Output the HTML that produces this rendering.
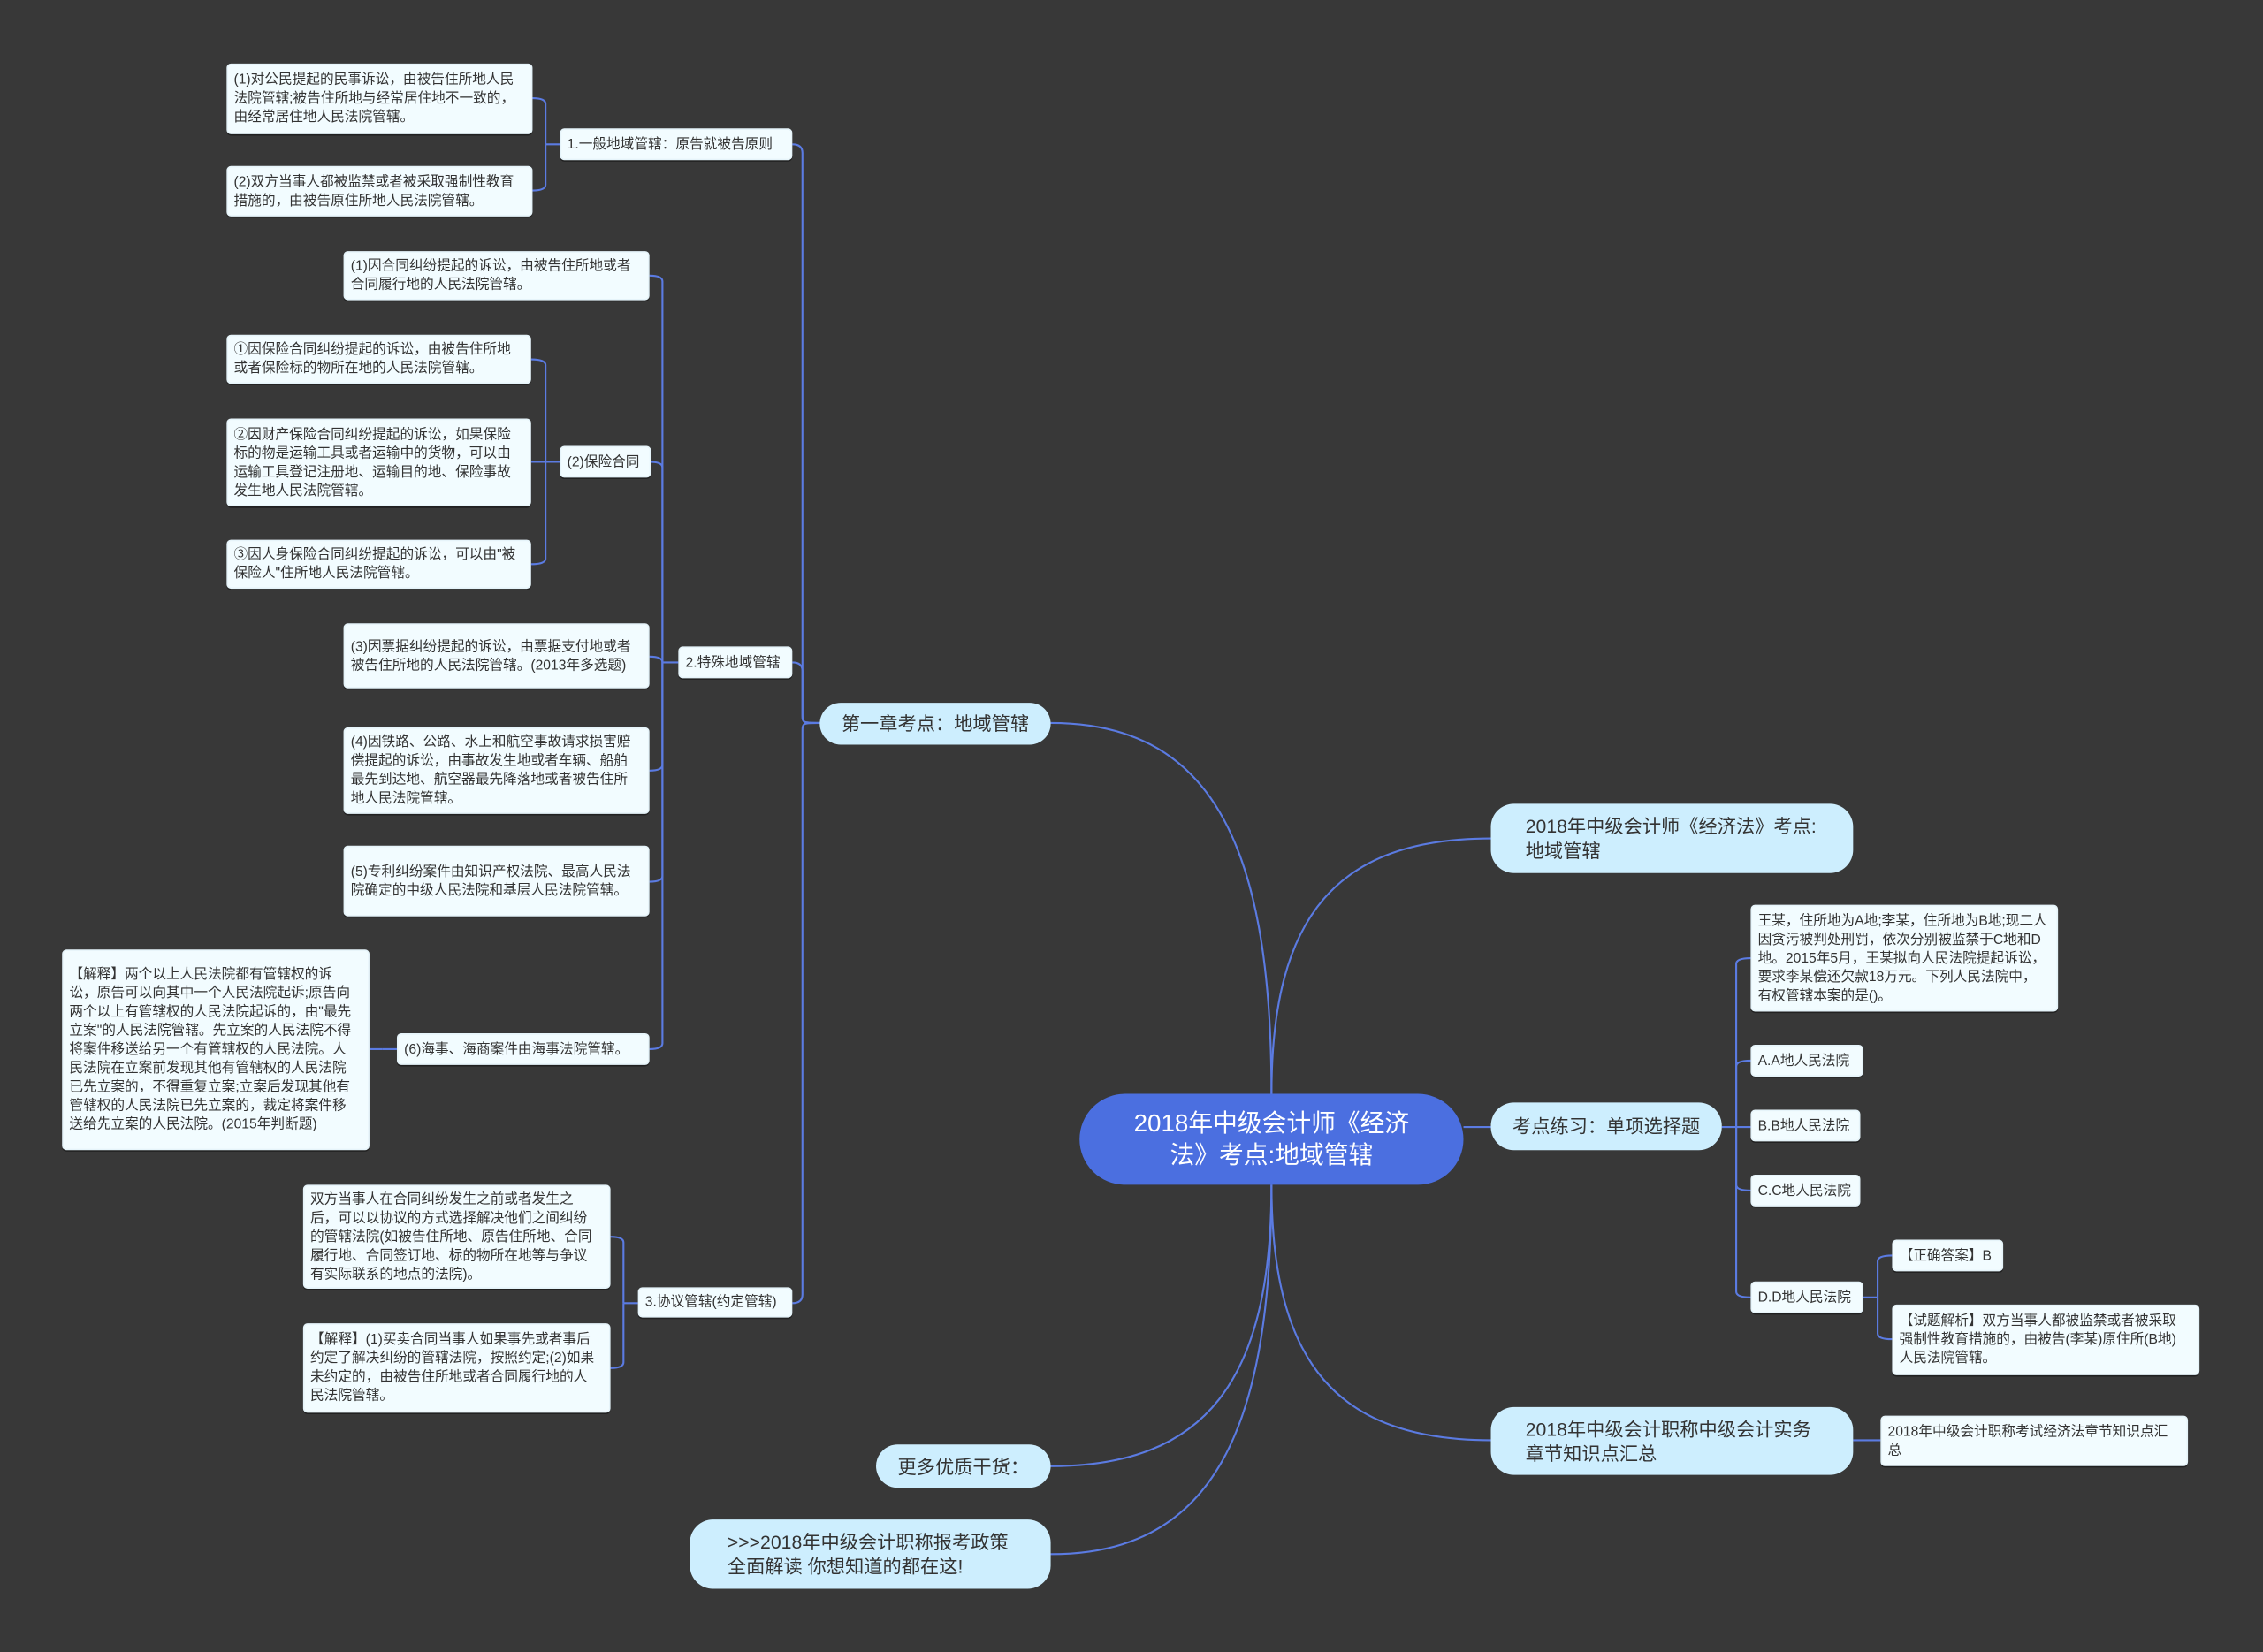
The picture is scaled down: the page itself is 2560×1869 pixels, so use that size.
<!DOCTYPE html>
<html><head><meta charset="utf-8">
<style>
html,body{margin:0;padding:0;background:#383838;}
body{width:2560px;height:1869px;overflow:hidden;position:relative;}
#s{position:absolute;left:0;top:0;width:1568px;height:1145px;transform:scale(1.63265);transform-origin:0 0;}
.n{position:absolute;box-sizing:border-box;background:#f2fcff;border:1px solid #e6f4fa;border-radius:3px;color:#333;font-family:"Liberation Sans","Noto Sans CJK SC",sans-serif;font-size:9.6px;line-height:13px;padding:2px 6px 2px 4px;display:flex;align-items:center;word-break:break-all;box-shadow:0 1px 0 rgba(0,0,0,.4);}
.p{position:absolute;box-sizing:border-box;background:#cdeefe;border-radius:16px;color:#333;font-family:"Liberation Sans","Noto Sans CJK SC",sans-serif;font-size:13px;line-height:17px;padding:0 20px 0 24px;display:flex;align-items:center;}
.r{position:absolute;box-sizing:border-box;background:#4b6fe0;border-radius:32px;color:#fff;font-family:"Liberation Sans","Noto Sans CJK SC",sans-serif;font-size:17px;line-height:22px;display:flex;align-items:center;justify-content:center;text-align:center;padding:0 28px;}
svg{position:absolute;left:0;top:0;}
</style></head><body>
<div id="s">
<svg id="g" width="1568" height="1145" viewBox="0 0 1568 1145"></svg>

<div class="n" style="left:157px;top:44px;width:212px;height:49px">(1)对公民提起的民事诉讼，由被告住所地人民法院管辖;被告住所地与经常居住地不一致的，由经常居住地人民法院管辖。</div>
<div class="n" style="left:157px;top:115px;width:212px;height:35px">(2)双方当事人都被监禁或者被采取强制性教育措施的，由被告原住所地人民法院管辖。</div>
<div class="n" style="left:388px;top:89px;width:161px;height:22px;white-space:nowrap">1.一般地域管辖：原告就被告原则</div>
<div class="n" style="left:238px;top:174px;width:212px;height:34px">(1)因合同纠纷提起的诉讼，由被告住所地或者合同履行地的人民法院管辖。</div>
<div class="n" style="left:157px;top:232px;width:211px;height:34px">①因保险合同纠纷提起的诉讼，由被告住所地或者保险标的物所在地的人民法院管辖。</div>
<div class="n" style="left:157px;top:290px;width:211px;height:61px">②因财产保险合同纠纷提起的诉讼，如果保险标的物是运输工具或者运输中的货物，可以由运输工具登记注册地、运输目的地、保险事故发生地人民法院管辖。</div>
<div class="n" style="left:157px;top:374px;width:211px;height:34px">③因人身保险合同纠纷提起的诉讼，可以由"被保险人"住所地人民法院管辖。</div>
<div class="n" style="left:388px;top:309px;width:63px;height:22px;white-space:nowrap">(2)保险合同</div>
<div class="n" style="left:238px;top:432px;width:212px;height:45px">(3)因票据纠纷提起的诉讼，由票据支付地或者被告住所地的人民法院管辖。(2013年多选题)</div>
<div class="n" style="left:470px;top:448px;width:79px;height:22px;white-space:nowrap">2.特殊地域管辖</div>
<div class="n" style="left:238px;top:504px;width:212px;height:60px">(4)因铁路、公路、水上和航空事故请求损害赔偿提起的诉讼，由事故发生地或者车辆、船舶最先到达地、航空器最先降落地或者被告住所地人民法院管辖。</div>
<div class="n" style="left:238px;top:586px;width:212px;height:49px">(5)专利纠纷案件由知识产权法院、最高人民法院确定的中级人民法院和基层人民法院管辖。</div>
<div class="n" style="left:275px;top:716px;width:175px;height:22px;white-space:nowrap">(6)海事、海商案件由海事法院管辖。</div>
<div class="n" style="left:43px;top:658px;width:213px;height:139px">【解释】两个以上人民法院都有管辖权的诉讼，原告可以向其中一个人民法院起诉;原告向两个以上有管辖权的人民法院起诉的，由"最先立案"的人民法院管辖。先立案的人民法院不得将案件移送给另一个有管辖权的人民法院。人民法院在立案前发现其他有管辖权的人民法院已先立案的，不得重复立案;立案后发现其他有管辖权的人民法院已先立案的，裁定将案件移送给先立案的人民法院。(2015年判断题)</div>
<div class="n" style="left:210px;top:821px;width:213px;height:72px">双方当事人在合同纠纷发生之前或者发生之后，可以以协议的方式选择解决他们之间纠纷的管辖法院(如被告住所地、原告住所地、合同履行地、合同签订地、标的物所在地等与争议有实际联系的地点的法院)。</div>
<div class="n" style="left:210px;top:917px;width:213px;height:62px">【解释】(1)买卖合同当事人如果事先或者事后约定了解决纠纷的管辖法院，按照约定;(2)如果未约定的，由被告住所地或者合同履行地的人民法院管辖。</div>
<div class="n" style="left:442px;top:892px;width:107px;height:21px;white-space:nowrap">3.协议管辖(约定管辖)</div>

<div class="p" style="left:568px;top:487px;width:160px;height:29px;padding-left:15px;padding-right:10px;white-space:nowrap">第一章考点：地域管辖</div>
<div class="p" style="left:607px;top:1001px;width:121px;height:30px;padding-left:15px;padding-right:10px;white-space:nowrap">更多优质干货：</div>
<div class="p" style="left:478px;top:1053px;width:250px;height:48px;padding-left:26px">&gt;&gt;&gt;2018年中级会计职称报考政策全面解读 你想知道的都在这!</div>

<div class="r" style="left:748px;top:758px;width:266px;height:63px">2018年中级会计师《经济法》考点:地域管辖</div>

<div class="p" style="left:1033px;top:557px;width:251px;height:48px">2018年中级会计师《经济法》考点:地域管辖</div>
<div class="p" style="left:1033px;top:764px;width:160px;height:33px;padding-left:15px;padding-right:10px;white-space:nowrap">考点练习：单项选择题</div>
<div class="p" style="left:1033px;top:975px;width:251px;height:47px">2018年中级会计职称中级会计实务章节知识点汇总</div>

<div class="n" style="left:1213px;top:627px;width:213px;height:74px">王某，住所地为A地;李某，住所地为B地;现二人因贪污被判处刑罚，依次分别被监禁于C地和D地。2015年5月，王某拟向人民法院提起诉讼，要求李某偿还欠款18万元。下列人民法院中，有权管辖本案的是()。</div>
<div class="n" style="left:1213px;top:724px;width:78px;height:22px;white-space:nowrap">A.A地人民法院</div>
<div class="n" style="left:1213px;top:769px;width:76px;height:22px;white-space:nowrap">B.B地人民法院</div>
<div class="n" style="left:1213px;top:814px;width:76px;height:22px;white-space:nowrap">C.C地人民法院</div>
<div class="n" style="left:1213px;top:888px;width:78px;height:22px;white-space:nowrap">D.D地人民法院</div>
<div class="n" style="left:1311px;top:859px;width:77px;height:22px;white-space:nowrap">【正确答案】B</div>
<div class="n" style="left:1311px;top:904px;width:213px;height:49px">【试题解析】双方当事人都被监禁或者被采取强制性教育措施的，由被告(李某)原住所(B地)人民法院管辖。</div>
<div class="n" style="left:1303px;top:981px;width:213px;height:35px">2018年中级会计职称考试经济法章节知识点汇总</div>
</div>
<script>
var g=document.getElementById('g'),d='';
function P(s){d+='<path d="'+s+'" fill="none" stroke="#5b7be2" stroke-width="1.3"/>';}
function C(x1,y1,x2,y2){P('M'+x1+' '+y1+' C'+x1+' '+(y1+(y2-y1)*0.7)+' '+(x1+(x2-x1)*0.3)+' '+y2+' '+x2+' '+y2);}
C(881,758,728,501);C(881,758,1033,581);C(881,821,728,1016);C(881,821,728,1077);C(881,821,1033,998);
P('M1014 781 H1033');
function S(px,py,cx,cy,tx){P('M'+px+' '+py+' C'+tx+' '+py+' '+tx+' '+py+' '+tx+' '+(py+(cy>py?6:-6))+' L'+tx+' '+(cy+(cy>py?-6:6))+' Q'+tx+' '+cy+' '+cx+' '+cy);}
S(568,501,549,100,556);S(568,501,549,459,556);S(568,501,549,903,556);
function B(px,py,tx,cx,ys){P('M'+px+' '+py+' H'+tx);ys.forEach(function(y){if(Math.abs(y-py)<2){P('M'+tx+' '+py+' H'+cx);return;}var s=y>py?1:-1;P('M'+tx+' '+py+' V'+(y-s*4)+' Q'+tx+' '+y+' '+cx+' '+y);});}
B(388,100,378,369,[68,132]);
B(470,459,459,450,[191,320,455,534,611,727]);
B(388,320,378,368,[249,320,391]);
B(275,727,265,256,[727]);
B(442,903,432,423,[857,948]);
B(1193,781,1203,1213,[664,735,780,825,899]);
B(1291,899,1301,1311,[870,928]);
P('M1284 998 H1303');
g.innerHTML=d;
</script>
</body></html>
